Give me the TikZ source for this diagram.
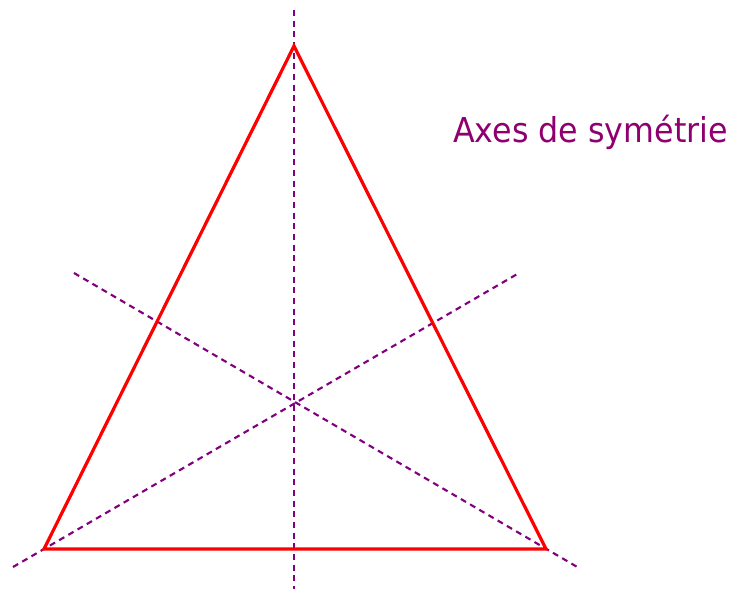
\documentclass[tikz,border=0pt]{standalone}
\usepackage{fontspec}
\setmainfont{DejaVu Sans}
\definecolor{axe}{HTML}{800080}
\definecolor{lab}{HTML}{8E0070}
\begin{document}
\begin{tikzpicture}[x=0.75pt,y=-0.75pt,
  axis/.style={axe,line width=1.6pt,dash pattern=on 4.5pt off 3.5pt},
  tri/.style={red,line width=2.4pt,line join=miter}]
\useasboundingbox (0,0) rectangle (734,589);
\coordinate (A) at (294,46);
\coordinate (B) at (44,549);
\coordinate (C) at (546,549);
\coordinate (v1) at (294,10);
\coordinate (v2) at (294,589);
\coordinate (l1) at (13,567);
\coordinate (l2) at (519,273);
\coordinate (m1) at (74,273);
\coordinate (m2) at (579,568);
\draw[axis] (v1) -- (v2);
\draw[axis] (l1) -- (l2);
\draw[axis] (m1) -- (m2);
\draw[tri] (A) -- (B) -- (C) -- cycle;
\node[lab,font=\fontsize{23.8pt}{28pt}\selectfont,anchor=base,inner sep=0pt,yscale=1.08] (t) at (590.5,142) {Axes de symétrie};
\end{tikzpicture}
\end{document}
